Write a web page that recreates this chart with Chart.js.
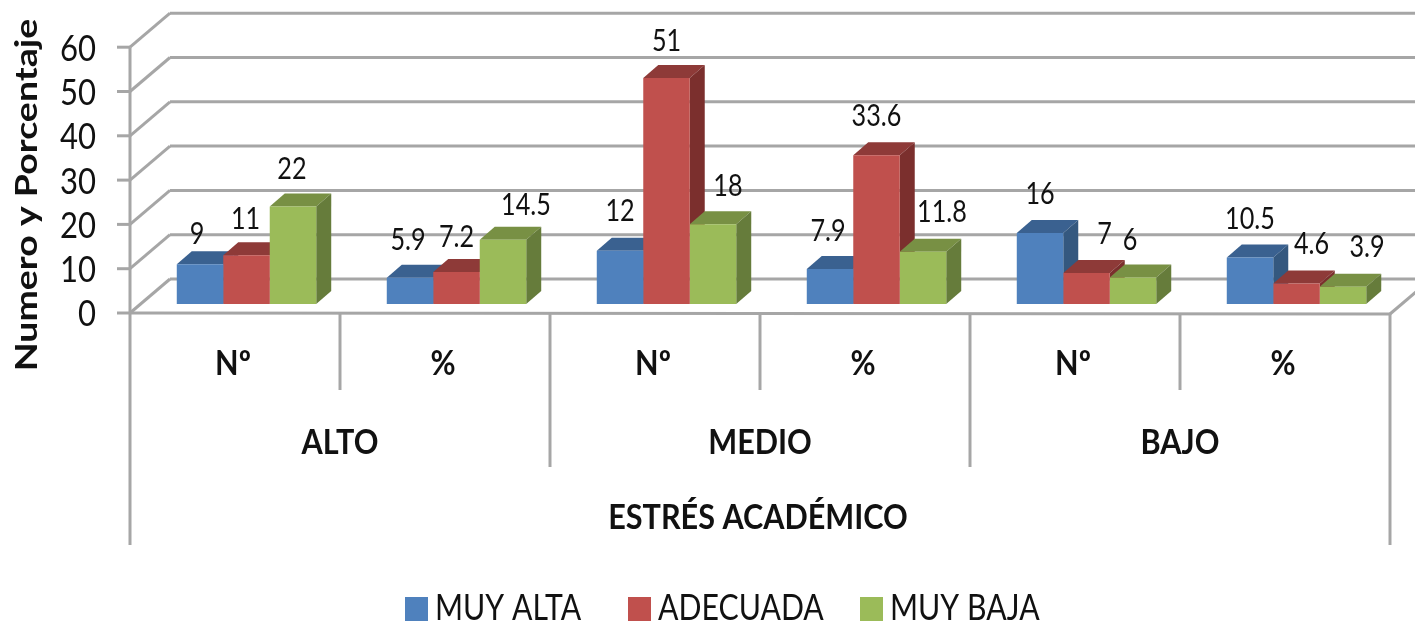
<!DOCTYPE html>
<html lang="es">
  <head>
    <meta charset="UTF-8" />
    <title>Estrés académico</title>
    <script src="https://cdn.jsdelivr.net/npm/chart.js"></script>
    <style>
      body {
        margin: 0;
        background-color: #fff;
      }
      canvas {
        display: block;
      }
    </style>
  </head>
  <body>
    <canvas id="chart" width="1415" height="623"></canvas>
    <script>
      const categories = ["Nº", "%", "Nº", "%", "Nº", "%"];
      const groups = ["ALTO", "MEDIO", "BAJO"];
      const muyAlta = [9, 5.9, 12, 7.9, 16, 10.5];
      const adecuada = [11, 7.2, 51, 33.6, 7, 4.6];
      const muyBaja = [22, 14.5, 18, 11.8, 6, 3.9];
      const yTitle = "Numero y Porcentaje";
      const xTitle = "ESTRÉS ACADÉMICO";

      const FONT = "Lato, sans-serif";
      const GRID = "#a6a6a6";
      const TEXT = "#111";
      const NARROW = 0.84; // the text in the picture is squeezed sideways

      // 3d look
      const barDepth = { x: 15, y: 13 };
      const wallDepth = { x: 40, y: 34 };
      const planeShift = { x: 11.5, y: 9 }; // front of the floor vs the plane of the bars

      const faces = [
        { front: "#4f81bd", top: "#3a6190", side: "#34587f" },
        { front: "#c0504d", top: "#8e3a38", side: "#7b2f2d" },
        { front: "#9bbb59", top: "#789044", side: "#667c3b" },
      ];

      // where each value label sits, relative to the top of its bar
      const labelNudge = [
        [[-3, -30], [-1, -36], [-1, -37]],
        [[-2, -38], [0, -35], [23, -34]],
        [[0, -40], [0, -37], [15, -38]],
        [[-2, -38], [0, -39], [19, -39]],
        [[0, -39], [18, -39], [-3, -37]],
        [[0, -38], [15, -39], [24, -39]],
      ];

      function poly(ctx, color, pts) {
        ctx.fillStyle = color;
        ctx.beginPath();
        pts.forEach((p, i) => (i ? ctx.lineTo(p[0], p[1]) : ctx.moveTo(p[0], p[1])));
        ctx.closePath();
        ctx.fill();
      }

      function line(ctx, x1, y1, x2, y2) {
        ctx.beginPath();
        ctx.moveTo(x1, y1);
        ctx.lineTo(x2, y2);
        ctx.stroke();
      }

      function label(ctx, text, x, y, size, opts = {}) {
        ctx.save();
        ctx.translate(x, y);
        if (opts.rotate) ctx.rotate(opts.rotate);
        ctx.scale(opts.sx || NARROW, 1);
        ctx.font = (opts.bold ? "bold " : "") + size + "px " + FONT;
        ctx.textAlign = opts.align || "center";
        ctx.textBaseline = "middle";
        ctx.fillStyle = TEXT;
        ctx.fillText(text, 0, 0);
        ctx.restore();
      }

      const wallsPlugin = {
        id: "walls",
        beforeDatasetsDraw(chart) {
          const ctx = chart.ctx;
          const x = chart.scales.x;
          const y = chart.scales.y;
          const left = x.left - planeShift.x;
          const step = x.width / categories.length;
          const right = left + step * categories.length;
          ctx.save();
          ctx.strokeStyle = GRID;
          ctx.lineWidth = 3;

          // back wall, side wall and axis ticks
          y.ticks.forEach((t) => {
            const py = y.getPixelForValue(t.value) + planeShift.y;
            line(ctx, left - 13, py, left, py);
            line(ctx, left, py, left + wallDepth.x, py - wallDepth.y);
            line(ctx, left + wallDepth.x, py - wallDepth.y, chart.width, py - wallDepth.y);
          });

          // front of the floor and the category dividers
          const y0 = y.getPixelForValue(0) + planeShift.y;
          line(ctx, left, y0, right, y0 + 1);
          line(ctx, right, y0 + 1, right + wallDepth.x, y0 + 1 - wallDepth.y);
          line(ctx, left, y.getPixelForValue(60) + planeShift.y, left, 545);
          line(ctx, right, y0, right, 545);
          for (let i = 1; i < categories.length; i++) {
            line(ctx, left + i * step, y0, left + i * step, i % 2 ? 390 : 467);
          }

          // bar tops and sides, the fronts are drawn by the chart over them
          for (let c = 0; c < categories.length; c++) {
            chart.data.datasets.forEach((ds, s) => {
              const bar = chart.getDatasetMeta(s).data[c];
              const l = bar.x - bar.width / 2;
              const r = bar.x + bar.width / 2;
              const t = bar.y;
              const b = bar.base;
              const dx = barDepth.x;
              const dy = barDepth.y;
              poly(ctx, faces[s].top, [[l, t], [l + dx, t - dy], [r + dx, t - dy], [r, t]]);
              poly(ctx, faces[s].side, [[r, t], [r + dx, t - dy], [r + dx, b - dy], [r, b]]);
            });
          }
          ctx.restore();
        },
        afterDatasetsDraw(chart) {
          const ctx = chart.ctx;
          const x = chart.scales.x;
          const y = chart.scales.y;
          const step = x.width / categories.length;
          const left = x.left - planeShift.x;

          // value labels
          chart.data.datasets.forEach((ds, s) => {
            chart.getDatasetMeta(s).data.forEach((bar, c) => {
              const n = labelNudge[c][s];
              label(ctx, String(ds.data[c]), bar.x + n[0], bar.y + n[1], 30);
            });
          });

          // axis tick labels
          y.ticks.forEach((t) => {
            label(ctx, t.label, left - 34, y.getPixelForValue(t.value) + planeShift.y + 1.5, 37, { align: "right" });
          });
          x.ticks.forEach((t, i) => {
            label(ctx, t.label, left + step * (i + 0.5) - 2, 364, 34, { bold: true, sx: 0.9 });
          });

          // group labels and axis titles
          groups.forEach((g, i) => {
            label(ctx, g, left + step * (2 * i + 1), 443, 34, { bold: true, sx: 0.9 });
          });
          label(ctx, xTitle, 758, 518, 34, { bold: true, sx: 0.9 });
          label(ctx, yTitle, 27, 195, 30, { bold: true, sx: 1.25, rotate: -Math.PI / 2 });

          // legend
          const legendX = [405, 628, 860];
          chart.data.datasets.forEach((ds, s) => {
            ctx.fillStyle = faces[s].front;
            ctx.fillRect(legendX[s], 597, 23, 24);
            label(ctx, ds.label, legendX[s] + 30, 608, 36, { align: "left" });
          });
        },
      };

      new Chart(document.getElementById("chart").getContext("2d"), {
        type: "bar",
        data: {
          labels: categories,
          datasets: [
            { label: "MUY ALTA", data: muyAlta, backgroundColor: faces[0].front },
            { label: "ADECUADA", data: adecuada, backgroundColor: faces[1].front },
            { label: "MUY BAJA", data: muyBaja, backgroundColor: faces[2].front },
          ],
        },
        options: {
          responsive: false,
          animation: false,
          categoryPercentage: 0.664,
          barPercentage: 1,
          layout: { padding: { left: 0, right: 13.5, top: 38.2, bottom: 0 } },
          plugins: { legend: { display: false }, tooltip: { enabled: false } },
          scales: {
            x: {
              grid: { display: false },
              border: { display: false },
              ticks: { display: false, autoSkip: false },
              afterFit(scale) {
                scale.height = 319;
                scale.paddingLeft = 0;
                scale.paddingRight = 0;
              },
            },
            y: {
              min: 0,
              max: 60,
              grid: { display: false },
              border: { display: false },
              ticks: { display: false, stepSize: 10, autoSkip: false },
              afterFit(scale) {
                scale.width = 141.5;
                scale.paddingTop = 0;
                scale.paddingBottom = 0;
              },
            },
          },
        },
        plugins: [wallsPlugin],
      });
    </script>
  </body>
</html>
